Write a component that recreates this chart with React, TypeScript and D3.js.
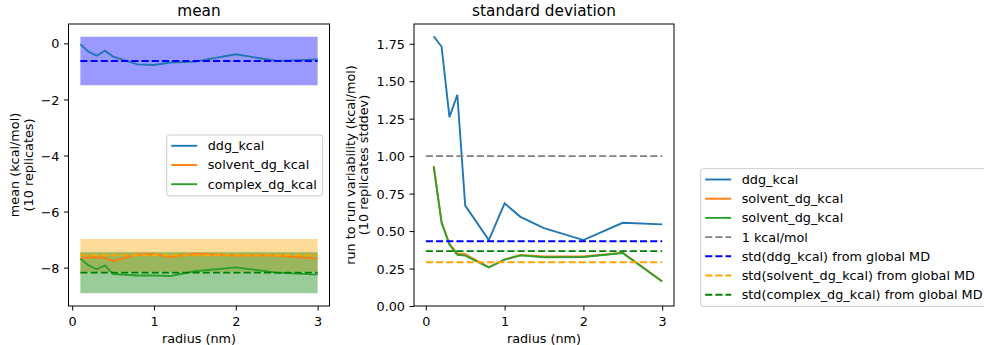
import React, { useEffect, useRef } from 'react'
import { select, scaleLinear, axisBottom, axisLeft, line, area, format, min, max } from 'd3'

// radius of the restrained region (nm)
const radius = [0.1, 0.2, 0.3, 0.4, 0.5, 0.8, 1.0, 1.2, 1.5, 2.0, 2.5, 3.0]

// mean over 10 replicates (kcal/mol)
const meanDdg = [-0.03, -0.30, -0.44, -0.26, -0.47, -0.75, -0.77, -0.68, -0.65, -0.39, -0.63, -0.57]
const meanSolvent = [-7.68, -7.64, -7.63, -7.65, -7.77, -7.53, -7.52, -7.62, -7.50, -7.57, -7.57, -7.68]
const meanComplex = [-7.68, -7.92, -8.06, -7.92, -8.23, -8.28, -8.28, -8.30, -8.13, -7.99, -8.18, -8.25]

// stddev over 10 replicates (kcal/mol)
const stdDdg = [1.80, 1.73, 1.26, 1.41, 0.67, 0.44, 0.685, 0.595, 0.52, 0.44, 0.555, 0.545]
const stdSolvent = [0.935, 0.56, 0.415, 0.35, 0.345, 0.26, 0.31, 0.34, 0.33, 0.33, 0.355, 0.165]
const stdComplex = [0.93, 0.555, 0.41, 0.342, 0.336, 0.257, 0.309, 0.338, 0.325, 0.327, 0.353, 0.163]

// global MD reference (ddg, solvent, complex)
const globalMean = [-0.63, -7.56, -8.18]
const globalStd = [0.432, 0.292, 0.366]
const oneKcal = 1.0
const refSpan = [0, 3]

const meanTicks = [0, -2, -4, -6, -8]
const stdTicks = [0, 0.25, 0.5, 0.75, 1.0, 1.25, 1.5, 1.75]
const xTicks = [0, 1, 2, 3]

const meanLegend = ['ddg_kcal', 'solvent_dg_kcal', 'complex_dg_kcal']
const stdLegend = [
  'ddg_kcal', 'solvent_dg_kcal', 'solvent_dg_kcal', '1 kcal/mol',
  'std(ddg_kcal) from global MD', 'std(solvent_dg_kcal) from global MD', 'std(complex_dg_kcal) from global MD',
]

const C = ['#1f77b4', '#ff7f0e', '#2ca02c']
const G = ['#0000ff', '#ffa500', '#008000']
const FONT = 'DejaVu Sans, sans-serif'
const FS = 12.8
const LW = 1.9
const DASH = '7.1 3.1'

const padded = (lo: number, hi: number) => [lo - 0.05 * (hi - lo), hi + 0.05 * (hi - lo)]

const App = () => {
  const svgRef = useRef<SVGSVGElement>(null)

  useEffect(() => {
    const svg = select(svgRef.current)
    svg.selectAll('*').remove()

    const top = 24, bottom = 306

    const bottomAxis = (g: any, scale: any) => {
      const ax = g.append('g').attr('transform', `translate(0,${bottom})`)
        .call(axisBottom(scale).tickValues(xTicks).tickSize(4.5).tickPadding(4.5).tickFormat(format('d')))
      ax.select('.domain').remove()
      ax.attr('font-family', FONT).attr('font-size', FS)
      ax.selectAll('line').attr('stroke', '#000').attr('stroke-width', 1)
      ax.selectAll('text').attr('fill', '#000').attr('dy', '0.83em')
    }
    const leftAxis = (g: any, scale: any, x0: number, ticks: number[], fmt: string) => {
      const ax = g.append('g').attr('transform', `translate(${x0},0)`)
        .call(axisLeft(scale).tickValues(ticks).tickSize(4.5).tickPadding(4.5).tickFormat(format(fmt)))
      ax.select('.domain').remove()
      ax.attr('font-family', FONT).attr('font-size', FS)
      ax.selectAll('line').attr('stroke', '#000').attr('stroke-width', 1)
      ax.selectAll('text').attr('fill', '#000').attr('dy', '0.36em')
    }
    const frame = (g: any, x0: number, x1: number) => {
      g.append('rect').attr('x', x0).attr('y', top).attr('width', x1 - x0).attr('height', bottom - top)
        .attr('fill', 'none').attr('stroke', '#000').attr('stroke-width', 1)
    }
    const labels = (g: any, cx: number, title: string, yl: string[], yBase: number[]) => {
      g.append('text').attr('x', cx).attr('y', 16.3).attr('text-anchor', 'middle')
        .attr('font-family', FONT).attr('font-size', 15.3).text(title)
      g.append('text').attr('x', cx).attr('y', 342.5).attr('text-anchor', 'middle')
        .attr('font-family', FONT).attr('font-size', FS).text('radius (nm)')
      yl.forEach((t, i) => {
        g.append('text').attr('transform', `translate(${yBase[i]},${(top + bottom) / 2}) rotate(-90)`)
          .attr('text-anchor', 'middle').attr('font-family', FONT).attr('font-size', FS).text(t)
      })
    }
    const legend = (g: any, x: number, y: number, w: number, names: string[], colors: string[], dashed: boolean[]) => {
      const pitch = 19.2
      const h = names.length * pitch + 3.2
      g.append('rect').attr('x', x).attr('y', y).attr('width', w).attr('height', h).attr('rx', 2.6)
        .attr('fill', 'rgba(255,255,255,0.8)').attr('stroke', '#cccccc').attr('stroke-width', 1)
      names.forEach((n, i) => {
        const cy = y + 10.8 + i * pitch
        g.append('line').attr('x1', x + 4.5).attr('x2', x + 30.5).attr('y1', cy).attr('y2', cy)
          .attr('stroke', colors[i]).attr('stroke-width', LW)
          .attr('stroke-dasharray', dashed[i] ? DASH : null)
        g.append('text').attr('x', x + 41).attr('y', cy + 4.4)
          .attr('font-family', FONT).attr('font-size', FS).text(n)
      })
    }

    // ---- mean panel ----
    const mx0 = 68.5, mx1 = 329.5
    const lower = radius.map((_, i) => min(globalMean.map((m, k) => m - 2 * globalStd[k]))!)
    const upper = radius.map((_, i) => max(globalMean.map((m, k) => m + 2 * globalStd[k]))!)
    const xm = scaleLinear().domain(padded(min(radius)!, max(radius)!)).range([mx0, mx1])
    const ym = scaleLinear().domain(padded(lower[0], upper[0])).range([bottom, top])
    const gm = svg.append('g')

    globalMean.forEach((m, k) => {
      const band = area<number>().x(d => xm(d)).y0(ym(m - 2 * globalStd[k])).y1(ym(m + 2 * globalStd[k]))
      gm.append('path').attr('d', band(radius)).attr('fill', G[k]).attr('fill-opacity', 0.4)
    })
    const lm = line<number>().x((d, i) => xm(radius[i])).y(d => ym(d))
    ;[meanDdg, meanSolvent, meanComplex].forEach((s, k) => {
      gm.append('path').attr('d', lm(s)).attr('fill', 'none').attr('stroke', C[k]).attr('stroke-width', LW)
    })
    globalMean.forEach((m, k) => {
      gm.append('line').attr('x1', xm(min(radius)!)).attr('x2', xm(max(radius)!)).attr('y1', ym(m)).attr('y2', ym(m))
        .attr('stroke', G[k]).attr('stroke-width', LW).attr('stroke-dasharray', DASH)
    })
    frame(gm, mx0, mx1)
    bottomAxis(gm, xm)
    leftAxis(gm, ym, mx0, meanTicks, 'd')
    labels(gm, (mx0 + mx1) / 2, 'mean', ['mean (kcal/mol)', '(10 replicates)'], [19.1, 32.5])
    legend(gm, 166.7, 135, 156, meanLegend, C, [false, false, false])

    // ---- std panel ----
    const sx0 = 414, sx1 = 674
    const allStd = [...stdDdg, ...stdSolvent, ...stdComplex, ...globalStd, oneKcal]
    const sMin = min(allStd)!, sMax = max(allStd)!
    const xs = scaleLinear().domain(padded(refSpan[0], refSpan[1])).range([sx0, sx1])
    const ys = scaleLinear().domain([0, sMax + 0.05 * (sMax - sMin)]).range([bottom, top])
    const gs = svg.append('g')
    const ls = line<number>().x((d, i) => xs(radius[i])).y(d => ys(d))
    ;[stdDdg, stdSolvent, stdComplex].forEach((s, k) => {
      gs.append('path').attr('d', ls(s)).attr('fill', 'none').attr('stroke', C[k]).attr('stroke-width', LW)
    })
    ;[oneKcal, ...globalStd].forEach((v, k) => {
      gs.append('line').attr('x1', xs(refSpan[0])).attr('x2', xs(refSpan[1])).attr('y1', ys(v)).attr('y2', ys(v))
        .attr('stroke', k === 0 ? '#808080' : G[k - 1]).attr('stroke-width', LW).attr('stroke-dasharray', DASH)
    })
    frame(gs, sx0, sx1)
    bottomAxis(gs, xs)
    leftAxis(gs, ys, sx0, stdTicks, '.2f')
    labels(gs, (sx0 + sx1) / 2, 'standard deviation',
      ['run to run variability (kcal/mol)', '(10 replicates stddev)'], [355, 368.4])
    legend(gs, 700.7, 168.7, 320, stdLegend, [...C, '#808080', ...G],
      [false, false, false, true, true, true, true])
  }, [])

  return (
    <svg ref={svgRef} width={984} height={345}
      style={{ position: 'absolute', left: 0, top: 0, background: '#fff' }} />
  )
}

export default App
